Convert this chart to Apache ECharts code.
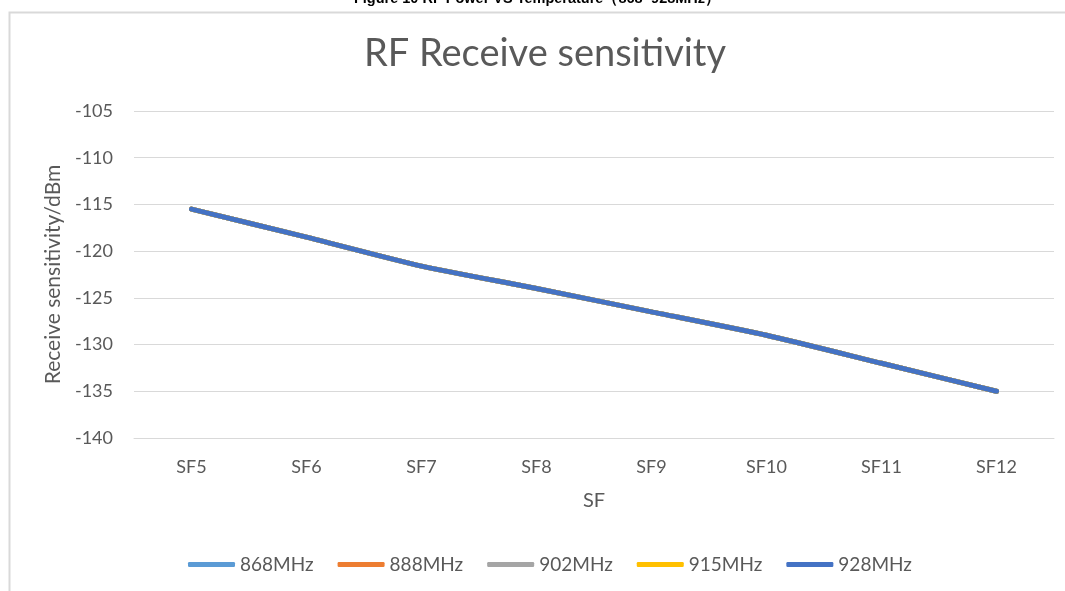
<!DOCTYPE html>
<html>
<head>
<meta charset="utf-8">
<script src="https://cdn.jsdelivr.net/npm/echarts@6/dist/echarts.min.js"></script>
<style>html,body{margin:0;padding:0;background:#fff;}#c{width:1065px;height:591px;}</style>
</head>
<body>
<div id="c"></div>
<script>
const categories = ['SF5','SF6','SF7','SF8','SF9','SF10','SF11','SF12'];
const seriesNames = ['868MHz','888MHz','902MHz','915MHz','928MHz'];
const s868 = [-115.5,-118.5,-121.6,-124,-126.5,-129,-132,-135];
const s888 = [-115.5,-118.5,-121.6,-124,-126.5,-129,-132,-135];
const s902 = [-115.5,-118.5,-121.6,-124,-126.5,-129,-132,-135];
const s915 = [-115.5,-118.5,-121.6,-124,-126.5,-129,-132,-135];
const s928 = [-115.5,-118.5,-121.6,-124,-126.5,-129,-132,-135];
const colors = ['#5B9BD5','#ED7D31','#A5A5A5','#FFC000','#4472C4'];
const allData = [s868,s888,s902,s915,s928];
const font = 'Lato, "Noto Sans", sans-serif';
const chart = echarts.init(document.getElementById('c'));
chart.setOption({
  animation:false,
  backgroundColor:'#fff',
  graphic:[
    {type:'text',x:537,y:-9,style:{text:'Figure 10 RF Power VS Temperature（868~928MHz）',font:'bold 14.5px "Liberation Sans", Arial, sans-serif',fill:'#000',textAlign:'center'}},
    {type:'rect',shape:{x:9.5,y:12.5,width:1100,height:700},style:{fill:'none',stroke:'#d9d9d9',lineWidth:2},z:-1},
    {type:'text',x:545,y:35,style:{text:'RF Receive sensitivity',font:'38px Lato, "Noto Sans", sans-serif',fill:'#595959',textAlign:'center'}}
  ],
  legend:{bottom:12,left:183,itemWidth:47,itemHeight:5,itemGap:24,icon:'roundRect',
    textStyle:{fontFamily:font,fontSize:19,color:'#595959'},data:seriesNames},
  grid:{left:134,right:11,top:111,bottom:153,containLabel:false},
  xAxis:{type:'category',data:categories,boundaryGap:true,name:'SF',nameLocation:'middle',nameGap:53,
    nameTextStyle:{fontFamily:font,fontSize:20,color:'#595959'},
    axisLine:{show:true,lineStyle:{color:'#d9d9d9',width:1}},axisTick:{show:false},
    axisLabel:{fontFamily:font,fontSize:18,color:'#595959',margin:20}},
  yAxis:{type:'value',min:-140,max:-105,interval:5,name:'Receive sensitivity/dBm',nameLocation:'middle',nameGap:66,
    nameTextStyle:{fontFamily:font,fontSize:21,color:'#595959'},
    axisLine:{show:false},axisTick:{show:false},
    axisLabel:{fontFamily:font,fontSize:18,color:'#595959',margin:21},
    splitLine:{lineStyle:{color:'#d9d9d9',width:1}}},
  series:seriesNames.map((n,i)=>({name:n,type:'line',data:allData[i],smooth:0.2,showSymbol:false,symbol:'none',
    lineStyle:{color:colors[i],width:5,cap:'round'},itemStyle:{color:colors[i]}}))
});
</script>
</body>
</html>
